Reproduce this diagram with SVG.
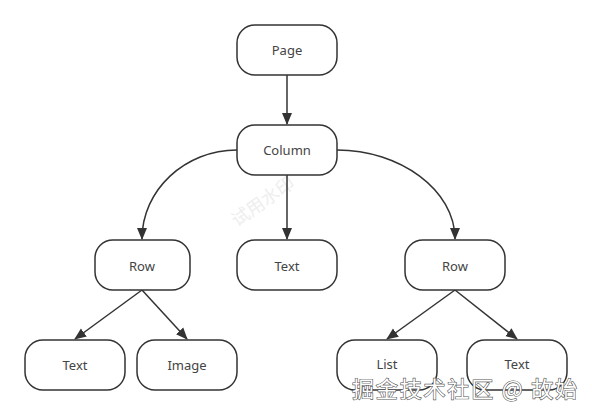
<svg xmlns="http://www.w3.org/2000/svg" width="592" height="415" viewBox="0 0 592 415">
<style>
.n rect{fill:#fff;stroke:#333;stroke-width:1.5}
.n text{font-family:"Noto Sans","Liberation Sans",sans-serif;font-size:13px;fill:#444;text-anchor:middle;dominant-baseline:central}
.e path{fill:none;stroke:#333;stroke-width:1.5}
</style>
<defs>
<marker id="a" markerUnits="userSpaceOnUse" markerWidth="12" markerHeight="12" viewBox="0 0 12 10" refX="11" refY="5" orient="auto">
<path d="M0,0 L12,5 L0,10 Z" fill="#333"/>
</marker>
</defs>
<rect width="592" height="415" fill="#fff"/>
<text x="262" y="200" transform="rotate(-35 262 200)" font-family="'Noto Sans CJK SC',sans-serif" font-size="18" fill="#eeeeee" text-anchor="middle" dominant-baseline="central">试用水印</text>
<g class="e">
<path d="M287,75 L287,124" marker-end="url(#a)"/>
<path d="M237,150 C185,150 142,190 142,239" marker-end="url(#a)"/>
<path d="M287,175 L287,239" marker-end="url(#a)"/>
<path d="M337,150 C400,150 455,190 455,239" marker-end="url(#a)"/>
<path d="M142,290 L75,339" marker-end="url(#a)"/>
<path d="M142,290 L187,339" marker-end="url(#a)"/>
<path d="M455,290 L387,339" marker-end="url(#a)"/>
<path d="M455,290 L517,339" marker-end="url(#a)"/>
</g>
<g id="page" class="n"><rect x="237" y="25" width="100" height="50" rx="18"/><text x="287" y="50">Page</text></g>
<g id="column" class="n"><rect x="237" y="125" width="100" height="50" rx="18"/><text x="287" y="150">Column</text></g>
<g id="row1" class="n"><rect x="95" y="240" width="95" height="50" rx="18"/><text x="142" y="266">Row</text></g>
<g id="text1" class="n"><rect x="237" y="240" width="100" height="50" rx="18"/><text x="287" y="266">Text</text></g>
<g id="row2" class="n"><rect x="405" y="240" width="100" height="50" rx="18"/><text x="455" y="266">Row</text></g>
<g id="text2" class="n"><rect x="25" y="340" width="100" height="50" rx="18"/><text x="75" y="365">Text</text></g>
<g id="image" class="n"><rect x="137" y="340" width="100" height="50" rx="18"/><text x="187" y="365">Image</text></g>
<g id="list" class="n"><rect x="337" y="340" width="100" height="50" rx="18"/><text x="387" y="364">List</text></g>
<g id="text3" class="n"><rect x="467" y="340" width="100" height="50" rx="18"/><text x="517" y="364">Text</text></g>
<text x="352" y="397" textLength="225" font-family="'Noto Sans CJK SC',sans-serif" font-size="22" fill="#fff" stroke="#555" stroke-width="1.2" paint-order="stroke">掘金技术社区 @ 故始</text>
</svg>
